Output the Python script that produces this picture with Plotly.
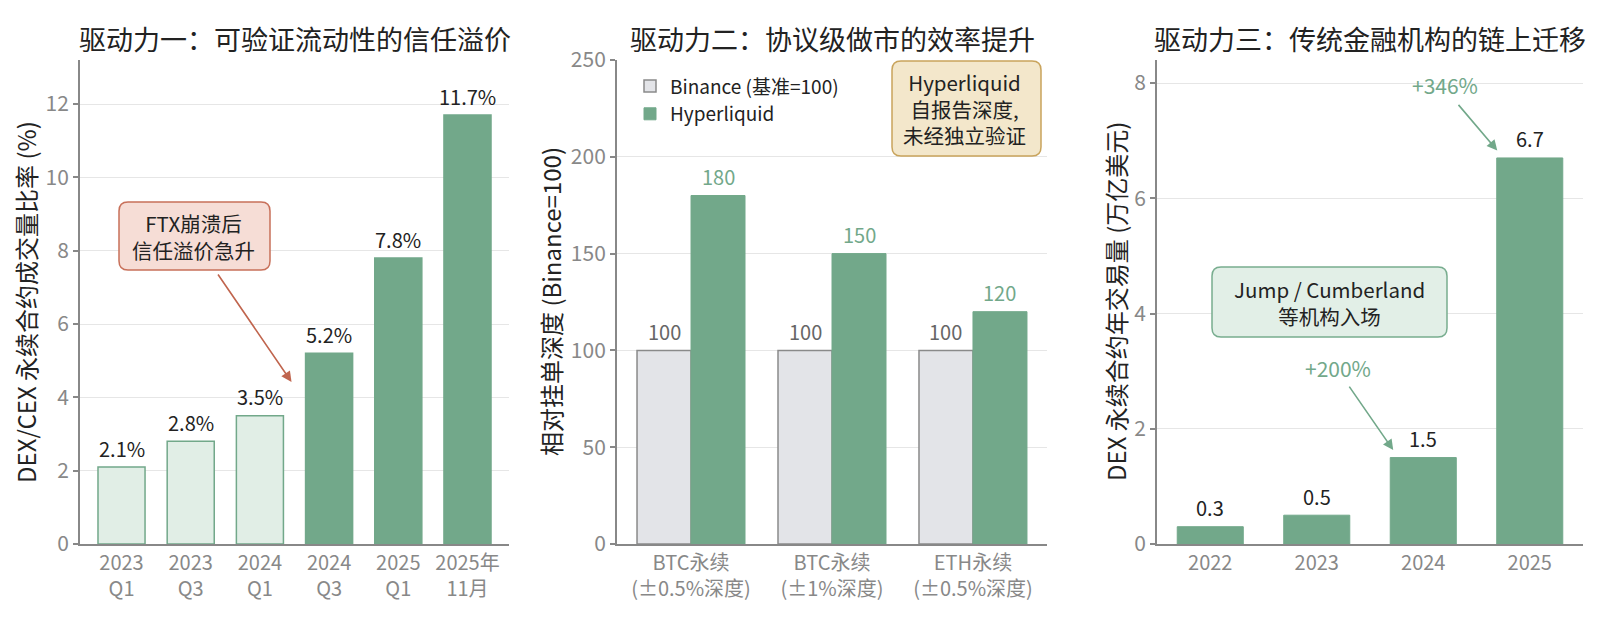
import plotly.graph_objects as go

# ---------------- data ----------------
p1_categories = ["2023<br>Q1", "2023<br>Q3", "2024<br>Q1", "2024<br>Q3", "2025<br>Q1", "2025年<br>11月"]
p1_values = [2.1, 2.8, 3.5, 5.2, 7.8, 11.7]
p1_labels = ["2.1%", "2.8%", "3.5%", "5.2%", "7.8%", "11.7%"]
p1_light = [True, True, True, False, False, False]

p2_categories = ["BTC永续<br>(±0.5%深度)", "BTC永续<br>(±1%深度)", "ETH永续<br>(±0.5%深度)"]
p2_binance = [100, 100, 100]
p2_hyper = [180, 150, 120]

p3_categories = ["2022", "2023", "2024", "2025"]
p3_values = [0.3, 0.5, 1.5, 6.7]

titles = ["驱动力一：可验证流动性的信任溢价", "驱动力二：协议级做市的效率提升", "驱动力三：传统金融机构的链上迁移"]
ytitles = ["DEX/CEX 永续合约成交量比率 (%)", "相对挂单深度 (Binance=100)", "DEX 永续合约年交易量 (万亿美元)"]

# ---------------- style ----------------
FONT = "Noto Sans CJK SC"
GREEN = "#72a88a"
LIGHT = "#e1eee6"
GRAY_BAR = "#e3e4e8"
GRAY_EDGE = "#8a8a8a"
AXIS = "#888888"
GRID = "#e6e6e6"
DARK = "#222222"
TICK = "#888888"

OFF = 8                      # page body margin
W, H = 1600 - 2 * OFF, 633 - 2 * OFF
TOP_PX, BOT_PX = 60, 544     # plot area in page pixels
T = TOP_PX - OFF
B = H - (BOT_PX - OFF)
PH = H - T - B


def px(xp):
    return (xp - OFF) / W


def py(yp):
    return (BOT_PX - yp) / PH


def rounded_box(x0, y0, x1, y1, r, fill, line):
    # page-pixel box -> paper-coordinate rounded rectangle path
    rx, ry = r / W, r / PH
    X0, X1 = px(x0), px(x1)
    Yt, Yb = py(y0), py(y1)
    path = (f"M {X0+rx},{Yb} L {X1-rx},{Yb} Q {X1},{Yb} {X1},{Yb+ry} "
            f"L {X1},{Yt-ry} Q {X1},{Yt} {X1-rx},{Yt} L {X0+rx},{Yt} "
            f"Q {X0},{Yt} {X0},{Yt-ry} L {X0},{Yb+ry} Q {X0},{Yb} {X0+rx},{Yb} Z")
    return dict(type="path", path=path, xref="paper", yref="paper",
                fillcolor=fill, line=dict(color=line, width=1.5), layer="above")


fig = go.Figure()

fig.add_trace(go.Bar(
    x=p1_categories, y=p1_values, width=0.68,
    marker=dict(color=[LIGHT if l else GREEN for l in p1_light],
                line=dict(color=GREEN, width=1.5)),
    xaxis="x", yaxis="y", showlegend=False, hoverinfo="skip"))

fig.add_trace(go.Bar(
    x=p2_categories, y=p2_binance, width=0.383, offset=-0.383,
    name="Binance (基准=100)",
    marker=dict(color=GRAY_BAR, line=dict(color=GRAY_EDGE, width=1.5)),
    xaxis="x2", yaxis="y2", hoverinfo="skip"))
fig.add_trace(go.Bar(
    x=p2_categories, y=p2_hyper, width=0.383, offset=0.0,
    name="Hyperliquid",
    marker=dict(color=GREEN, line=dict(color=GREEN, width=1)),
    xaxis="x2", yaxis="y2", hoverinfo="skip"))

fig.add_trace(go.Bar(
    x=p3_categories, y=p3_values, width=0.62,
    marker=dict(color=GREEN, line=dict(color=GREEN, width=1)),
    xaxis="x3", yaxis="y3", showlegend=False, hoverinfo="skip"))

LBL = 20
ann = []
# bar value labels
for i, (v, t) in enumerate(zip(p1_values, p1_labels)):
    ann.append(dict(x=i, y=v, xref="x", yref="y", text=t, showarrow=False,
                    yanchor="middle", yshift=19, font=dict(size=LBL, color=DARK)))
for i, v in enumerate(p2_binance):
    ann.append(dict(x=i - 0.1915, y=v, xref="x2", yref="y2", text=str(v), showarrow=False,
                    yanchor="middle", yshift=19, font=dict(size=LBL, color="#666666")))
for i, v in enumerate(p2_hyper):
    ann.append(dict(x=i + 0.1915, y=v, xref="x2", yref="y2", text=str(v), showarrow=False,
                    yanchor="middle", yshift=19, font=dict(size=LBL, color=GREEN)))
for i, v in enumerate(p3_values):
    ann.append(dict(x=i, y=v, xref="x3", yref="y3", text=str(v), showarrow=False,
                    yanchor="middle", yshift=19, font=dict(size=LBL, color=DARK)))

# titles
for k, t in enumerate(titles):
    xr = "x domain" if k == 0 else f"x{k+1} domain"
    ann.append(dict(x=0.5, y=1 + 22 / PH, xref=xr, yref="paper", text=t,
                    showarrow=False, xanchor="center", yanchor="middle",
                    font=dict(size=27, color=DARK)))

# y titles
for xpix, t in zip([25, 550, 1115], ytitles):
    ann.append(dict(x=px(xpix), y=0.5, xref="paper", yref="paper", text=t, textangle=-90,
                    showarrow=False, xanchor="center", yanchor="middle",
                    font=dict(size=24, color=DARK)))

shapes = [
    rounded_box(119, 202, 270, 270, 9, "#f6ddd6", "#c8705a"),
    rounded_box(892, 61, 1041, 156, 9, "#f3e7cb", "#c9a45c"),
    rounded_box(1212, 267, 1447, 337, 9, "#e2efe7", "#78ad8f"),
]

# panel 1 callout
ann.append(dict(x=1.04, y=8.40, xref="x", yref="y", text="FTX崩溃后<br>信任溢价急升",
                showarrow=False, font=dict(size=20.5, color=DARK)))
ann.append(dict(x=2.457, y=4.42, ax=1.38, ay=7.39, xref="x", yref="y", axref="x", ayref="y",
                text="", showarrow=True, arrowhead=2, arrowsize=1.3, arrowwidth=1.6,
                arrowcolor="#c0654e"))

# panel 2 note
ann.append(dict(x=1.943, y=224.9, xref="x2", yref="y2",
                text="Hyperliquid<br>自报告深度,<br>未经独立验证",
                showarrow=False, font=dict(size=20.5, color=DARK)))

# panel 3 annotations
ann.append(dict(x=1.122, y=4.196, xref="x3", yref="y3", text="Jump / Cumberland<br>等机构入场",
                showarrow=False, font=dict(size=20.5, color=DARK)))
ann.append(dict(x=1.197, y=3.05, xref="x3", yref="y3", text="+200%", showarrow=False,
                font=dict(size=21, color=GREEN)))
ann.append(dict(x=1.718, y=1.63, ax=1.296, ay=2.757, xref="x3", yref="y3", axref="x3", ayref="y3",
                text="", showarrow=True, arrowhead=2, arrowsize=1.3, arrowwidth=1.6,
                arrowcolor=GREEN))
ann.append(dict(x=2.207, y=7.96, xref="x3", yref="y3", text="+346%", showarrow=False,
                font=dict(size=21, color=GREEN)))
ann.append(dict(x=2.695, y=6.83, ax=2.319, ay=7.647, xref="x3", yref="y3", axref="x3", ayref="y3",
                text="", showarrow=True, arrowhead=2, arrowsize=1.3, arrowwidth=1.6,
                arrowcolor=GREEN))


def xax(domain, rng):
    return dict(domain=domain, range=rng, type="category", showline=True, linecolor=AXIS,
                linewidth=2, ticks="", showgrid=False, zeroline=False,
                tickfont=dict(size=20, color=TICK), fixedrange=True)


def yax(anchor, rng, dtick):
    return dict(anchor=anchor, domain=[0, 1], range=rng, dtick=dtick, showline=True,
                linecolor=AXIS, linewidth=2, ticks="outside", ticklen=5, tickwidth=1.5,
                tickcolor=AXIS, showgrid=True, gridcolor=GRID, gridwidth=1, zeroline=False,
                tickfont=dict(size=21, color=TICK), fixedrange=True)


fig.update_layout(
    width=W, height=H,
    margin=dict(l=0, r=0, t=T, b=B),
    paper_bgcolor="white", plot_bgcolor="white",
    font=dict(family=FONT, color=DARK),
    barmode="overlay",
    xaxis=dict(xax([px(80), px(509)], [-0.6, 5.6]), anchor="y"),
    yaxis=yax("x", [0, 13.2], 2),
    xaxis2=dict(xax([px(617), px(1047)], [-0.525, 2.525]), anchor="y2"),
    yaxis2=yax("x2", [0, 250], 50),
    xaxis3=dict(xax([px(1157), px(1583)], [-0.5, 3.5]), anchor="y3"),
    yaxis3=yax("x3", [0, 8.4], 2),
    legend=dict(x=px(630), y=0.985, xanchor="left", yanchor="top",
                bgcolor="rgba(0,0,0,0)", font=dict(size=19, color=DARK),
                tracegroupgap=0),
    shapes=shapes,
    annotations=ann,
)

fig.write_html("out.html")
